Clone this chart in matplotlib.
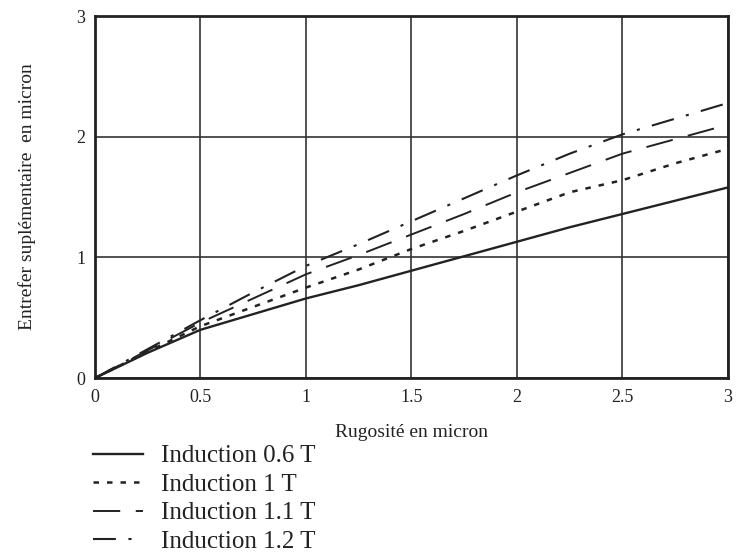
import numpy as np
import matplotlib.pyplot as plt

plt.rcParams['font.family'] = ['Liberation Serif', 'DejaVu Serif']

rugosite = [0, 0.25, 0.5, 0.75, 1, 1.25, 1.5, 1.75, 2, 2.25, 2.5, 2.75, 3]
ind_06 = [0, 0.21, 0.40, 0.53, 0.66, 0.77, 0.89, 1.01, 1.13, 1.25, 1.36, 1.47, 1.58]
ind_10 = [0, 0.22, 0.43, 0.59, 0.75, 0.90, 1.07, 1.22, 1.38, 1.54, 1.64, 1.78, 1.90]
ind_11 = [0, 0.23, 0.46, 0.66, 0.86, 1.02, 1.19, 1.36, 1.54, 1.70, 1.86, 1.98, 2.10]
ind_12 = [0, 0.24, 0.48, 0.71, 0.93, 1.11, 1.30, 1.49, 1.68, 1.86, 2.02, 2.15, 2.28]
labels = ['Induction 0.6 T', 'Induction 1 T', 'Induction 1.1 T', 'Induction 1.2 T']
xticks = [0, 0.5, 1, 1.5, 2, 2.5, 3]
xticklabels = ['0', '0.5', '1', '1.5', '2', '2.5', '3']
yticks = [0, 1, 2, 3]

fig = plt.figure(figsize=(7.36, 5.56), dpi=100)
ax = fig.add_axes([0.129, 0.320, 0.860, 0.651])

c = '#222222'
l1, = ax.plot(rugosite, ind_06, color=c, lw=1.7, ls='-')
l2, = ax.plot(rugosite, ind_10, color=c, lw=1.8, ls=(0, (2.2, 3.2)))
l3, = ax.plot(rugosite, ind_11, color=c, lw=1.4, ls=(0, (14, 8)))
l4, = ax.plot(rugosite, ind_12, color=c, lw=1.5, ls=(0, (11, 6, 1.5, 6)))

ax.set_xlim(0, 3)
ax.set_ylim(0, 3)
ax.set_xticks(xticks)
ax.set_xticklabels(xticklabels)
ax.set_yticks(yticks)
ax.grid(True, color='#333333', lw=1.2)
ax.tick_params(length=0, labelsize=13, labelcolor='#222222')
ax.tick_params(axis='x', pad=8)
ax.tick_params(axis='y', pad=7)
for s in ax.spines.values():
    s.set_linewidth(2)
    s.set_color('#222222')

ax.set_xlabel('Rugosité en micron', fontsize=14, va='center', color='#222222')
ax.xaxis.set_label_coords(0.5, -0.149)
ax.set_ylabel('Entrefer suplémentaire  en micron', fontsize=14, va='center', color='#222222')
ax.yaxis.set_label_coords(-0.107, 0.5)

# legende sous le graphe
fig.legend([l1, l2, l3, l4], labels, loc='upper left', bbox_to_anchor=(0.127, 0.200),
           frameon=False, fontsize=18, handlelength=2.0, handletextpad=0.7,
           labelspacing=0.24, borderaxespad=0, borderpad=0, labelcolor='#222222')

fig.savefig('out.png', dpi=100)
